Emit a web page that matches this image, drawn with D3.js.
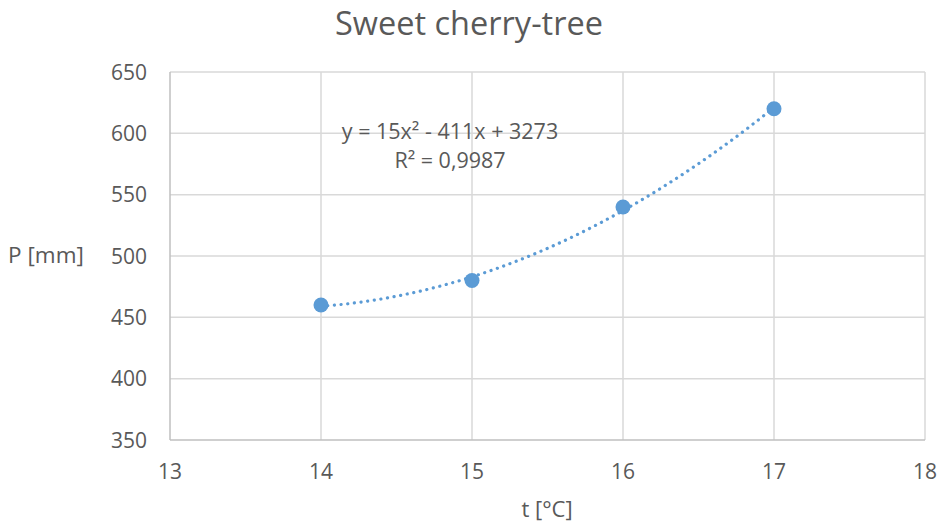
<!DOCTYPE html>
<html><head><meta charset="utf-8">
<script src="https://cdn.jsdelivr.net/npm/d3@7"></script>
<style>body{margin:0;background:#fff}svg{display:block}text{font-family:"Open Sans",Lato,sans-serif;fill:#595959}</style>
</head><body>
<svg id="c" width="942" height="524"></svg>
<script>
const xValues = [14, 15, 16, 17];
const yValues = [460, 480, 540, 620];
const xTicks = [13, 14, 15, 16, 17, 18];
const yTicks = [350, 400, 450, 500, 550, 600, 650];
const title = "Sweet cherry-tree";
const eqLines = ["y = 15x² - 411x + 3273", "R² = 0,9987"];

const svg = d3.select("#c");
const L = 170, R = 925, T = 72, B = 440;
const x = d3.scaleLinear().domain([13, 18]).range([L, R]);
const y = d3.scaleLinear().domain([350, 650]).range([B, T]);

// gridlines
svg.append("g").selectAll("line").data(yTicks.slice(1)).join("line")
  .attr("x1", L).attr("x2", R).attr("y1", d => y(d)).attr("y2", d => y(d))
  .attr("stroke", "#d9d9d9").attr("stroke-width", 1.5);
svg.append("g").selectAll("line").data(xTicks.slice(1)).join("line")
  .attr("y1", T).attr("y2", B).attr("x1", d => x(d)).attr("x2", d => x(d))
  .attr("stroke", "#d9d9d9").attr("stroke-width", 1.5);
// axes lines
svg.append("line").attr("x1", L).attr("x2", R).attr("y1", B).attr("y2", B).attr("stroke", "#bfbfbf").attr("stroke-width", 1.5);
svg.append("line").attr("x1", L).attr("x2", L).attr("y1", T).attr("y2", B).attr("stroke", "#bfbfbf").attr("stroke-width", 1.5);

// tick labels
svg.append("g").selectAll("text").data(yTicks).join("text")
  .attr("x", 147).attr("y", d => y(d) + 7.5).attr("text-anchor", "end")
  .attr("font-size", 21).text(d => d);
svg.append("g").selectAll("text").data(xTicks).join("text")
  .attr("x", d => x(d)).attr("y", 479).attr("text-anchor", "middle")
  .attr("font-size", 21).text(d => d);

// titles
svg.append("text").attr("x", 469).attr("y", 35).attr("text-anchor", "middle").attr("font-size", 32.5).text(title);
svg.append("text").attr("x", 46).attr("y", 263).attr("text-anchor", "middle").attr("font-size", 22.5).text("P [mm]");
svg.append("text").attr("x", 547).attr("y", 517).attr("text-anchor", "middle").attr("font-size", 22).text("t [°C]");

// polynomial (order 2) least-squares trendline
function polyfit2(xs, ys) {
  let S = [0,0,0,0,0], Sy = [0,0,0];
  xs.forEach((xv, i) => {
    for (let k = 0; k < 5; k++) S[k] += Math.pow(xv, k);
    for (let k = 0; k < 3; k++) Sy[k] += Math.pow(xv, k) * ys[i];
  });
  const A = [[S[0],S[1],S[2],Sy[0]],[S[1],S[2],S[3],Sy[1]],[S[2],S[3],S[4],Sy[2]]];
  for (let i = 0; i < 3; i++) {
    for (let j = i + 1; j < 3; j++) {
      const f = A[j][i] / A[i][i];
      for (let k = i; k < 4; k++) A[j][k] -= f * A[i][k];
    }
  }
  const c = [0,0,0];
  for (let i = 2; i >= 0; i--) {
    let s = A[i][3];
    for (let k = i + 1; k < 3; k++) s -= A[i][k] * c[k];
    c[i] = s / A[i][i];
  }
  return c;
}
const coef = polyfit2(xValues, yValues);
const xs = d3.range(14, 17.0001, 0.02);
const line = d3.line().x(d => x(d)).y(d => y(coef[0] + coef[1]*d + coef[2]*d*d));
svg.append("path").datum(xs).attr("d", line).attr("fill", "none")
  .attr("stroke", "#5b9bd5").attr("stroke-width", 3.2)
  .attr("stroke-linecap", "round").attr("stroke-dasharray", "0.1 6.6");

// markers
svg.append("g").selectAll("circle").data(xValues).join("circle")
  .attr("cx", d => x(d)).attr("cy", (d, i) => y(yValues[i])).attr("r", 7.5)
  .attr("fill", "#5b9bd5");

// equation
svg.append("g").selectAll("text").data(eqLines).join("text")
  .attr("x", 450).attr("y", (d, i) => 139 + i * 29).attr("text-anchor", "middle")
  .attr("font-size", 21.5).text(d => d);
</script>
</body></html>
